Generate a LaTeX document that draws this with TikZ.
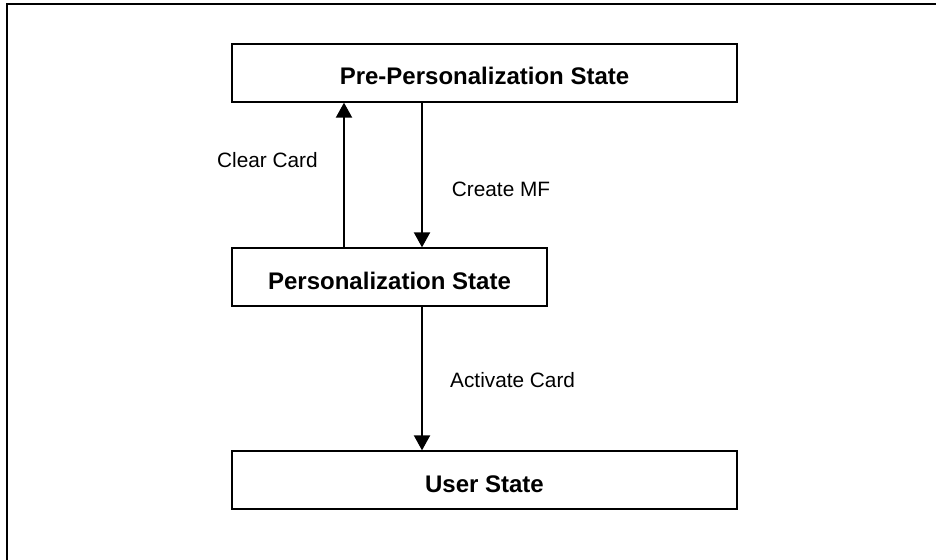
\documentclass[tikz,border=0pt]{standalone}
\usepackage{fontspec}
\setmainfont{Liberation Sans}
\usetikzlibrary{arrows.meta}
\tikzset{
  statebox/.style={draw=black, line width=1.3pt, fill=white, minimum height=58pt,
    inner sep=0pt, text height=24pt, text depth=0pt,
    font=\fontsize{24}{28}\selectfont\bfseries},
  trans/.style={line width=2pt, -{Triangle[width=16pt,length=15pt]}},
  translabel/.style={anchor=base west, inner sep=0pt, font=\fontsize{20.8}{24}\selectfont}
}
\begin{document}
\begin{tikzpicture}[x=1pt,y=-1pt]
  \useasboundingbox (0,0) rectangle (936,559);
  \clip (0,0) rectangle (936,559);
  % outer frame (runs past the right and bottom edges)
  \draw[line width=1.7pt] (7,566) -- (7,4) -- (943,4);

  % states
  \node[statebox, minimum width=505pt] (pre)  at (484.5,73)  {Pre-Personalization State};
  \node[statebox, minimum width=315pt] (pers) at (389.5,277) {Personalization State};
  \node[statebox, minimum width=505pt] (user) at (484.5,480) {User State};

  % transitions
  \coordinate (upx) at (344,0);
  \coordinate (dnx) at (422,0);
  \draw[trans] (upx |- pers.north) -- (upx |- pre.south);
  \draw[trans] (dnx |- pre.south) -- (dnx |- pers.north);
  \draw[trans] (dnx |- pers.south) -- (dnx |- user.north);

  % transition labels
  \node[translabel] (lclear)    at (217,167)   {Clear Card};
  \node[translabel] (lcreate)   at (451.7,196) {Create MF};
  \node[translabel] (lactivate) at (450,387)   {Activate Card};
\end{tikzpicture}
\end{document}
